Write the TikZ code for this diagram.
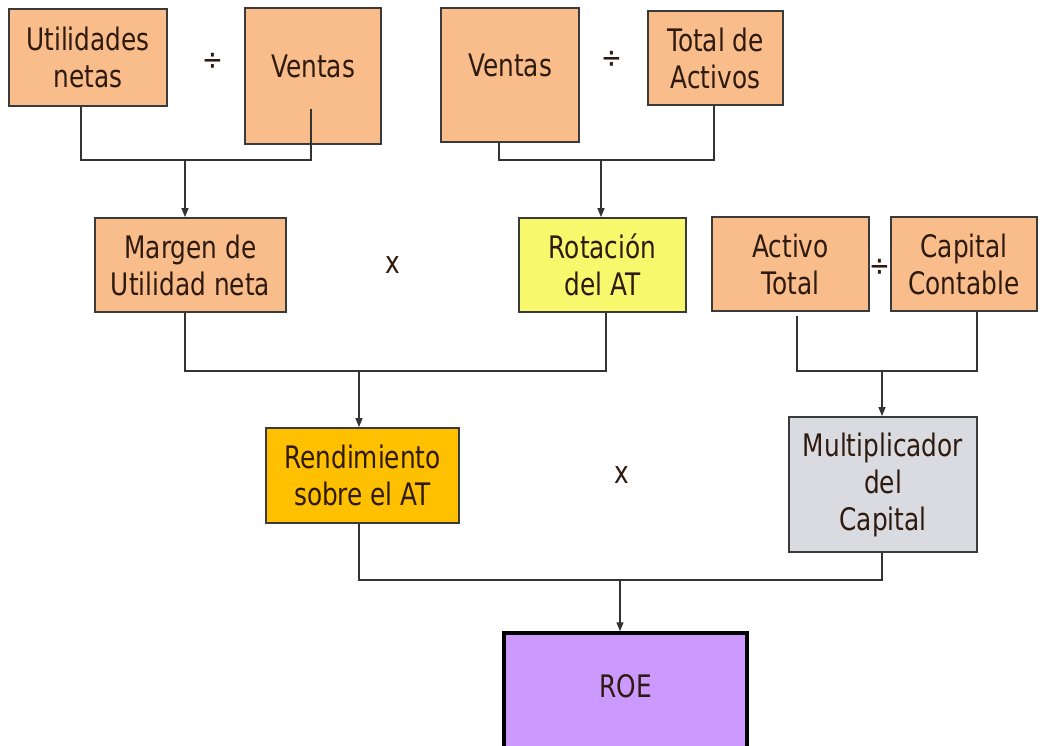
\documentclass[tikz,border=0pt]{standalone}
\usepackage{fontspec}
\setmainfont[FakeStretch=0.8]{DejaVu Sans}
\usetikzlibrary{arrows.meta,calc}
\definecolor{orng}{HTML}{F9BD8C}
\definecolor{ylw}{HTML}{F8F86C}
\definecolor{gold}{HTML}{FFC000}
\definecolor{grayb}{HTML}{D9DBE1}
\definecolor{purp}{HTML}{CC99FF}
\definecolor{txt}{HTML}{2E1A0E}
\definecolor{boxline}{HTML}{3A3A3A}
\definecolor{lnc}{HTML}{333333}
\begin{document}
\begin{tikzpicture}[x=1pt,y=-1pt,
  box/.style={draw=boxline, line width=1.8pt, text=txt, align=center, inner sep=0pt,
    font=\fontsize{31}{37}\selectfont},
  conn/.style={draw=lnc, line width=1.4pt},
  arr/.style={conn, -{Triangle[length=9pt,width=7pt]}},
  op/.style={text=txt, inner sep=0pt, font=\fontsize{31}{37}\selectfont}]
\clip (0,0) rectangle (1044,746);
\fill[white] (0,0) rectangle (1044,746);

% row 1
\node[box, fill=orng, minimum width=158pt, minimum height=97pt] (ut) at (88,57.5) {Utilidades\\netas};
\node[box, fill=orng, minimum width=136pt, minimum height=136pt, text depth=20pt] (v1) at (313,76) {Ventas};
\node[box, fill=orng, minimum width=138pt, minimum height=134pt, text depth=20pt] (v2) at (510,75) {Ventas};
\node[box, fill=orng, minimum width=135pt, minimum height=94pt] (ta) at (715.5,58) {Total de\\Activos};
\node[op] (d1) at (213,62) {÷};
\node[op] (d2) at (612,60) {÷};

% row 2
\node[box, fill=orng, minimum width=191pt, minimum height=94pt] (mg) at (190.5,265) {Margen de\\Utilidad neta};
\node[box, fill=ylw, minimum width=167pt, minimum height=94pt] (rt) at (602.5,265) {Rotación\\del AT};
\node[box, fill=orng, minimum width=157pt, minimum height=94pt] (at) at (790.5,264) {Activo\\Total};
\node[box, fill=orng, minimum width=146pt, minimum height=94pt] (cc) at (964,264) {Capital\\Contable};
\node[op] (m1) at (393,265) {x};
\node[op] (d3) at (880,268) {÷};

% row 3
\node[box, fill=gold, minimum width=193pt, minimum height=95pt] (rd) at (362.5,475.5) {Rendimiento\\sobre el AT};
\node[box, fill=grayb, minimum width=188pt, minimum height=135pt] (mu) at (883,484.5) {Multiplicador\\del\\Capital};
\node[op] (m2) at (622,475) {x};

% row 4
\node[box, fill=purp, draw=black, line width=3.5pt, minimum width=243pt, minimum height=127pt, text depth=22pt] (roe) at (625.5,696.5) {ROE};

% joint levels
\coordinate (y1) at (0,160);
\coordinate (y2) at (0,371);
\coordinate (y3) at (0,580);
\coordinate (j1) at (185,160);
\coordinate (j2) at (601,160);
\coordinate (j3) at (359,371);
\coordinate (j4) at (882,371);
\coordinate (j5) at (620,580);

% connectors level 1
\draw[conn] ([xshift=-7pt]ut.south) -- ([xshift=-7pt]ut.south |- y1)
  -- ([xshift=-2pt]v1.south |- y1) -- ([xshift=-2pt,yshift=36pt]v1.south);
\draw[arr] (j1) -- (j1 |- mg.north);
\draw[conn] ([xshift=-11pt]v2.south) -- ([xshift=-11pt]v2.south |- y1)
  -- ([xshift=-1.5pt]ta.south |- y1) -- ([xshift=-1.5pt]ta.south);
\draw[arr] (j2) -- (j2 |- rt.north);

% connectors level 2
\draw[conn] ([xshift=-5.5pt]mg.south) -- ([xshift=-5.5pt]mg.south |- y2)
  -- ([xshift=3.5pt]rt.south |- y2) -- ([xshift=3.5pt]rt.south);
\draw[arr] (j3) -- (j3 |- rd.north);
\draw[conn] ([xshift=6.5pt,yshift=-4pt]at.south) -- ([xshift=6.5pt]at.south |- y2)
  -- ([xshift=13pt]cc.south |- y2) -- ([xshift=13pt]cc.south);
\draw[arr] (j4) -- (j4 |- mu.north);

% connectors level 3
\draw[conn] ([xshift=-3.5pt]rd.south) -- ([xshift=-3.5pt]rd.south |- y3)
  -- ([xshift=-1pt]mu.south |- y3) -- ([xshift=-1pt]mu.south);
\draw[arr] (j5) -- (j5 |- roe.north);
\end{tikzpicture}
\end{document}
